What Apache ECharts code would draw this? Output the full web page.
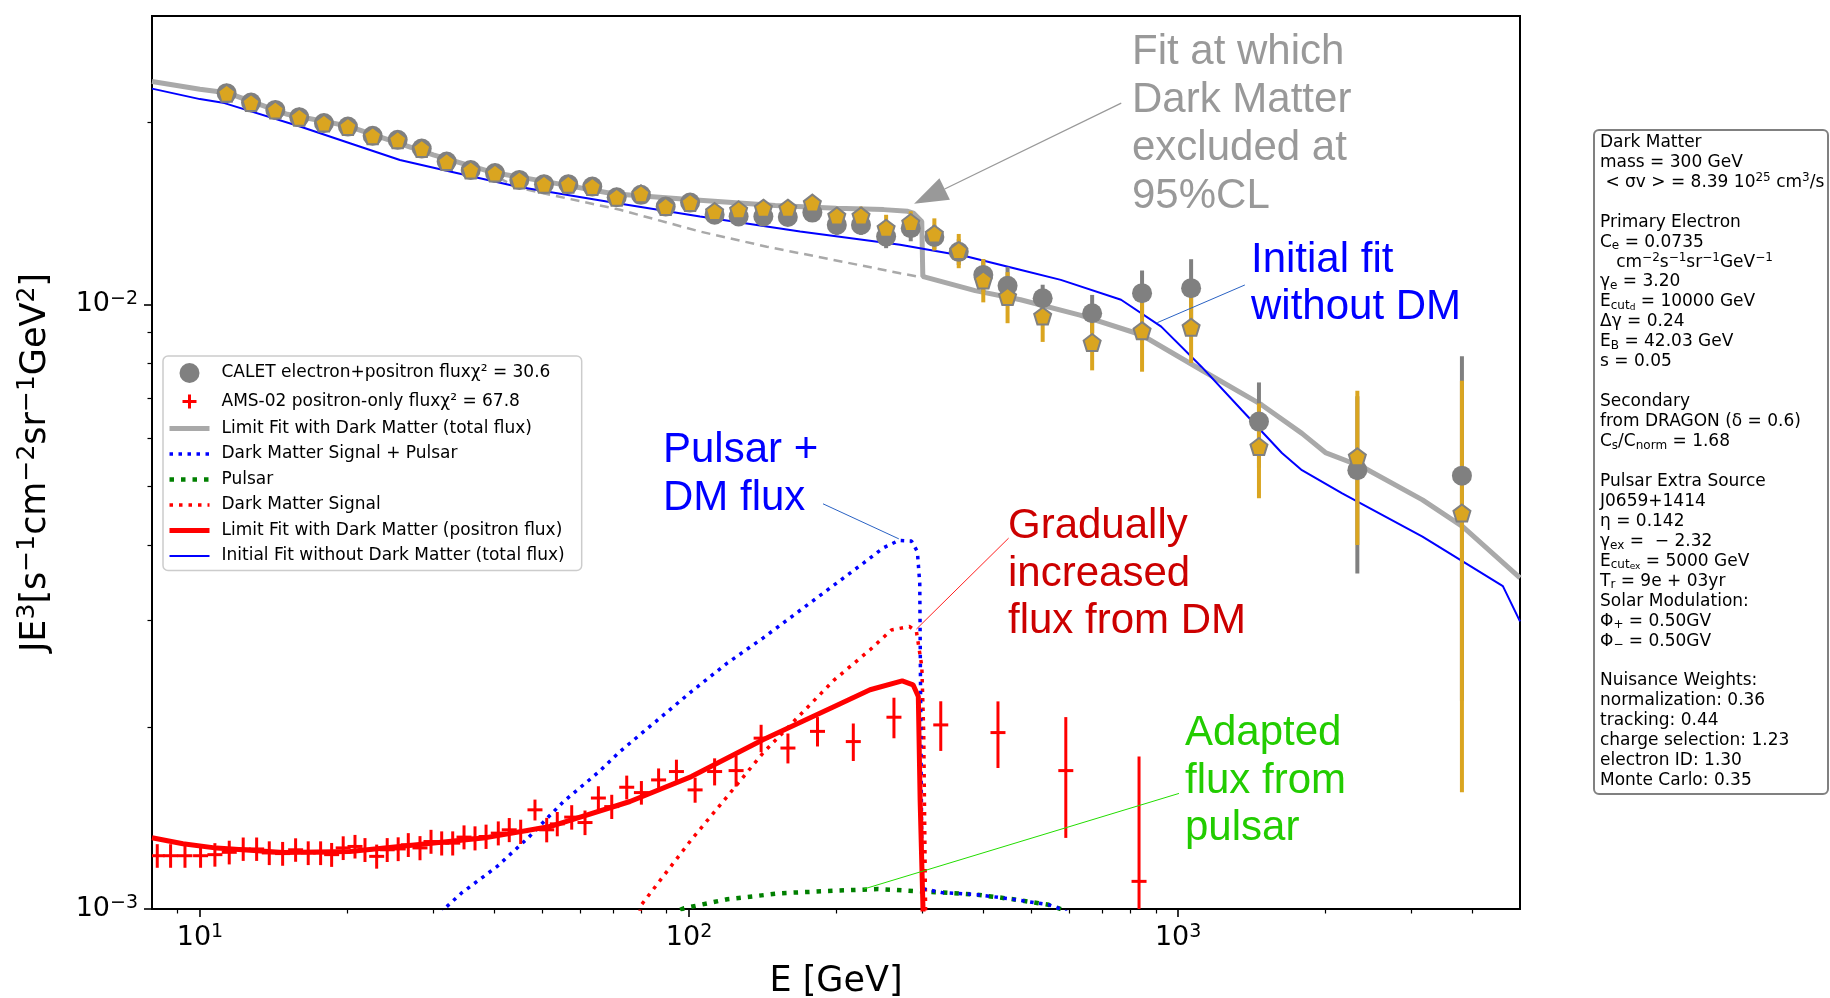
<!DOCTYPE html>
<html><head><meta charset="utf-8">
<script src="https://cdn.jsdelivr.net/npm/echarts@6/dist/echarts.min.js"></script>
<style>html,body{margin:0;padding:0;background:#fff}#c{width:1830px;height:998px}</style>
</head><body><div id="c"></div>
<script>
// ---------------- data ----------------
const calE = [11.34, 12.72, 14.26, 15.96, 17.93, 20.07, 22.55, 25.37, 28.41, 31.95, 35.78, 40.11, 44.98, 50.52, 56.65, 63.42, 71.14, 79.75, 89.60, 100.5, 112.8, 126.3, 141.9, 159.2, 178.7, 200.5, 224.7, 252.9, 284.0, 317.4, 356.0, 399.6, 448.0, 528.5, 667.1, 843.8, 1063, 1463, 2325, 3804];
const calF = [0.02236, 0.02157, 0.02098, 0.02041, 0.01995, 0.01969, 0.01901, 0.01872, 0.01811, 0.01723, 0.01669, 0.01649, 0.01607, 0.01581, 0.01581, 0.01567, 0.01504, 0.01518, 0.01452, 0.01474, 0.01407, 0.01398, 0.01398, 0.01395, 0.01419, 0.01354, 0.01354, 0.01295, 0.01337, 0.01293, 0.01222, 0.01119, 0.01074, 0.01024, 0.00967, 0.01044, 0.01064, 0.00640, 0.00532, 0.00521];
const calErr = [0.0004, 0.0004, 0.0004, 0.0004, 0.0004, 0.0004, 0.0004, 0.0004, 0.0004, 0.0004, 0.0004, 0.0004, 0.0004, 0.0004, 0.0004, 0.0004, 0.0004, 0.0004, 0.0004, 0.0004, 0.0004, 0.0004, 0.0004, 0.0004, 0.0004, 0.0005, 0.0005, 0.00056, 0.00065, 0.0006, 0.0006, 0.0007, 0.0008, 0.00054, 0.0007, 0.00094, 0.00124, 0.00103, 0.00173, 0.0030];
const penF = [0.02236, 0.02157, 0.02098, 0.02041, 0.01995, 0.01969, 0.01901, 0.01872, 0.01811, 0.01723, 0.01669, 0.01649, 0.01607, 0.01581, 0.01581, 0.01567, 0.01504, 0.01524, 0.01452, 0.01474, 0.01425, 0.01434, 0.01443, 0.01443, 0.01471, 0.01401, 0.01401, 0.01337, 0.01366, 0.01308, 0.01228, 0.01098, 0.01031, 0.00957, 0.00865, 0.00905, 0.00917, 0.00582, 0.00560, 0.00452];
const penErr = [0.0003, 0.0003, 0.0003, 0.0003, 0.0003, 0.0003, 0.0003, 0.0003, 0.0003, 0.0003, 0.0003, 0.0003, 0.0003, 0.0003, 0.0003, 0.0003, 0.0003, 0.0003, 0.0003, 0.0003, 0.0003, 0.0003, 0.0003, 0.0003, 0.0004, 0.0004, 0.0005, 0.0007, 0.0006, 0.0008, 0.0008, 0.0009, 0.0010, 0.0009, 0.00087, 0.00131, 0.00117, 0.00104, 0.0016, 0.00296];

const amsE = [8.18, 8.71, 9.32, 10.03, 10.73, 11.48, 12.26, 13.06, 13.86, 14.76, 15.69, 16.65, 17.65, 18.59, 19.63, 20.75, 21.75, 22.98, 24.15, 25.43, 26.67, 28.18, 29.68, 31.21, 32.87, 34.67, 36.51, 38.46, 40.74, 42.90, 45.27, 48.42, 51.17, 53.78, 57.56, 61.28, 65.26, 69.50, 74.58, 79.91, 86.65, 94.24, 102.9, 112.8, 124.8, 140.4, 159.3, 183.1, 216.7, 262.4, 327.1, 428.2, 589.3, 831.9];
const amsF = [0.001225, 0.001225, 0.001225, 0.001225, 0.001230, 0.001241, 0.001257, 0.001257, 0.001238, 0.001235, 0.001253, 0.001238, 0.001238, 0.001230, 0.001262, 0.001269, 0.001253, 0.001222, 0.001253, 0.001257, 0.001277, 0.001262, 0.001293, 0.001285, 0.001285, 0.001315, 0.001310, 0.001318, 0.001335, 0.001352, 0.001343, 0.001459, 0.001352, 0.001383, 0.001419, 0.001390, 0.001526, 0.001477, 0.001590, 0.001558, 0.001635, 0.001688, 0.001574, 0.001688, 0.001694, 0.001917, 0.001846, 0.001967, 0.001892, 0.002076, 0.002016, 0.001958, 0.001694, 0.001111];
const amsErr = [0.000055, 0.000055, 0.000055, 0.000055, 0.000055, 0.000056, 0.000056, 0.000056, 0.000056, 0.000056, 0.000056, 0.000056, 0.000056, 0.000056, 0.000057, 0.000057, 0.000057, 0.000056, 0.000057, 0.000057, 0.000058, 0.000058, 0.000059, 0.000059, 0.000059, 0.000060, 0.000060, 0.000061, 0.000061, 0.000062, 0.000062, 0.000058, 0.000063, 0.000064, 0.000066, 0.000065, 0.000070, 0.000068, 0.000072, 0.000070, 0.000073, 0.000078, 0.000075, 0.000087, 0.000100, 0.000100, 0.000105, 0.000110, 0.000135, 0.000160, 0.000190, 0.000247, 0.000383, 0.000677];

const limTotE = [7.98, 10, 11.34, 15, 20, 30, 40, 50, 70, 100, 150, 200, 250, 280, 287.5, 299.1, 300.6, 303.9, 384.5, 476.3, 630, 840.2, 1116, 1483, 1791, 2006, 2378, 3159, 3818, 5000];
const limTotF = [0.02337, 0.02270, 0.02240, 0.02066, 0.01974, 0.01768, 0.01651, 0.01601, 0.01524, 0.01492, 0.01458, 0.01442, 0.01435, 0.01426, 0.01416, 0.01371, 0.01112, 0.01110, 0.01054, 0.01018, 0.00960, 0.00891, 0.00779, 0.00682, 0.00612, 0.00568, 0.00539, 0.00475, 0.00429, 0.00353];
const noDmE = [36, 45.1, 72.3, 105.3, 144.2, 197.3, 270.1, 296.8];
const noDmF = [0.01700, 0.01557, 0.01434, 0.01320, 0.01246, 0.01185, 0.01126, 0.01110];
const initE = [7.98, 10, 11.22, 16.02, 20.26, 25.64, 32.45, 44.42, 67.87, 105.3, 168.7, 270.1, 369.8, 475.2, 575.6, 764.4, 923.5, 1116, 1349, 1630, 1791, 2165, 3159, 4613, 5000];
const initF = [0.02275, 0.02186, 0.02153, 0.01969, 0.01848, 0.01734, 0.01659, 0.01567, 0.01480, 0.01398, 0.01320, 0.01255, 0.01200, 0.01141, 0.01098, 0.01018, 0.00919, 0.00789, 0.00669, 0.00568, 0.00532, 0.00487, 0.00413, 0.00342, 0.00299];
const dmPulE = [31.3, 31.70, 34.23, 40.52, 46.82, 55.39, 65.52, 72.26, 85.49, 101.1, 119.7, 141.6, 167.5, 227.7, 250.0, 268.5, 285.0, 293.0, 296.3, 299.5, 302.9, 328.2, 388.3, 459.6, 543.8, 581.7, 600];
const dmPulF = [0.00098, 0.001003, 0.001062, 0.001176, 0.001310, 0.001506, 0.001688, 0.001822, 0.002042, 0.002289, 0.002551, 0.002806, 0.003105, 0.003738, 0.003960, 0.004070, 0.004060, 0.003900, 0.003455, 0.001088, 0.001079, 0.001065, 0.001056, 0.001038, 0.001016, 0.000997, 0.00098];
const pulE = [95.9, 97.8, 119.7, 154.0, 198.2, 243.5, 277.4, 328.2, 388.3, 459.6, 543.8, 581.7];
const pulF = [0.000997, 0.001003, 0.001038, 0.001062, 0.001072, 0.001079, 0.001073, 0.001065, 0.001056, 0.001038, 0.001016, 0.000997];
const dmE = [78.5, 79.9, 101.1, 119.7, 141.6, 167.5, 198.2, 234.5, 259.3, 282.2, 291.7, 299.2, 301.9, 304.4, 305];
const dmF = [0.00095, 0.001016, 0.001302, 0.001535, 0.001811, 0.002082, 0.002394, 0.002684, 0.002895, 0.002933, 0.002877, 0.002518, 0.001954, 0.001035, 0.0009];
const posE = [7.98, 9.23, 10.82, 14.80, 20.26, 27.74, 37.96, 51.96, 75.73, 101.1, 141.6, 198.2, 234.5, 272.8, 287.1, 294.3, 296.8, 301.9];
const posF = [0.001312, 0.001282, 0.001261, 0.001240, 0.001245, 0.001277, 0.001310, 0.001369, 0.001506, 0.001656, 0.001905, 0.002163, 0.002305, 0.002385, 0.002349, 0.002247, 0.001516, 0.0009];

const xMajorTicks = [10, 100, 1000];
const xMinorTicks = [9, 20, 30, 40, 50, 60, 70, 80, 90, 200, 300, 400, 500, 600, 700, 800, 900, 2000, 3000, 4000];
const yMajorTicks = [0.001, 0.01];
const yMinorTicks = [0.002, 0.003, 0.004, 0.005, 0.006, 0.007, 0.008, 0.009, 0.02];

const legendNames = ['CALET electron+positron fluxχ² = 30.6', 'AMS-02 positron-only fluxχ² = 67.8', 'Limit Fit with Dark Matter (total flux)', 'Dark Matter Signal + Pulsar', 'Pulsar', 'Dark Matter Signal', 'Limit Fit with Dark Matter (positron flux)', 'Initial Fit without Dark Matter (total flux)'];

const paramLines = [
  'Dark Matter', 'mass = 300 GeV', ' < σv > = 8.39 10{sup|25} cm{sup|3}/s', '',
  'Primary Electron', 'C{sub|e} = 0.0735', '   cm{sup|−2}s{sup|−1}sr{sup|−1}GeV{sup|−1}', 'γ{sub|e} = 3.20',
  'E{sub|cut}{sub2|d} = 10000 GeV', 'Δγ = 0.24', 'E{sub|B} = 42.03 GeV', 's = 0.05', '',
  'Secondary', 'from DRAGON (δ = 0.6)', 'C{sub|s}/C{sub|norm} = 1.68', '',
  'Pulsar Extra Source', 'J0659+1414', 'η = 0.142', 'γ{sub|ex} =  − 2.32', 'E{sub|cut}{sub2|ex} = 5000 GeV',
  'T{sub|r} = 9e + 03yr', 'Solar Modulation:', 'Φ{sub|+} = 0.50GV', 'Φ{sub|−} = 0.50GV', '',
  'Nuisance Weights:', 'normalization: 0.36', 'tracking: 0.44', 'charge selection: 1.23', 'electron ID: 1.30', 'Monte Carlo: 0.35'
];

// annotation texts and their pointer lines (pointer ends in data coordinates)
const notes = [
  {text: 'Fit at which\nDark Matter\nexcluded at\n95%CL', color: '#999999', x: 1132, y: 28, lh: 48},
  {text: 'Initial fit\nwithout DM', color: '#0000ff', x: 1251, y: 237, lh: 47},
  {text: 'Pulsar +\nDM flux', color: '#0000ff', x: 663, y: 426, lh: 48},
  {text: 'Gradually\nincreased\nflux from DM', color: '#cc0000', x: 1008, y: 503, lh: 47.5},
  {text: 'Adapted\nflux from\npulsar', color: '#22cc00', x: 1185, y: 710, lh: 47.5}
];
const pointers = [
  {from: [765, 0.02153], to: [288.5, 0.01467], color: '#999999', arrow: true},
  {from: [1369, 0.01077], to: [906.6, 0.00933], color: '#2a62c4'},
  {from: [187.9, 0.00468], to: [268.5, 0.004095], color: '#2a62c4'},
  {from: [450.2, 0.004106], to: [291.7, 0.002904], color: '#ff2020'},
  {from: [1004, 0.001553], to: [227.7, 0.001079], color: '#22dd00'}
];

// ---------------- helpers ----------------
const zip = (a, b) => a.map((v, i) => [v, b[i]]);
const zip3 = (a, b, c) => a.map((v, i) => [v, b[i], c[i]]);
const FONT = 'DejaVu Sans';
function powLabel(v) {
  const e = Math.round(Math.log10(v));
  if (Math.abs(v / Math.pow(10, e) - 1) > 1e-6) return '';
  const s = e < 0 ? '−' + (-e) : '' + e;
  return '{b|10}{s|' + s + '}';
}
const tickRich = {
  b: {fontSize: 27, fontFamily: FONT, color: '#000', lineHeight: 30},
  s: {fontSize: 19, fontFamily: FONT, color: '#000', lineHeight: 17, verticalAlign: 'top'}
};
function errRender(color, width, cap) {
  return function (params, api) {
    const E = api.value(0), F = api.value(1), s = api.value(2);
    const top = api.coord([E, F + s]);
    const bot = api.coord([E, Math.max(F - s, 1e-5)]);
    const c = api.coord([E, F]);
    const ch = [{type: 'line', shape: {x1: top[0], y1: top[1], x2: bot[0], y2: bot[1]}, style: {stroke: color, lineWidth: width}}];
    if (cap) ch.push({type: 'line', shape: {x1: c[0] - cap / 2, y1: c[1], x2: c[0] + cap / 2, y2: c[1]}, style: {stroke: color, lineWidth: width}});
    return {type: 'group', children: ch};
  };
}
const pentagon = 'path://M0,-1L0.951,-0.309L0.588,0.809L-0.588,0.809L-0.951,-0.309Z';
const plusIcon = 'path://M0,0L0.01,0M20,20L20.01,20M8.5,3H11.5V8.5H17V11.5H11.5V17H8.5V11.5H3V8.5H8.5Z';

function lineSeries(name, data, color, width, type, extra) {
  return Object.assign({
    name, type: 'line', data, symbol: 'none', showSymbol: false, clip: true,
    lineStyle: {color, width, type: type || 'solid', cap: 'butt'}, itemStyle: {color},
    emphasis: {disabled: true}, z: 2
  }, extra || {});
}
const hideSym = {opacity: 0};
const legLine = (name, color, width, type) => ({name, itemStyle: hideSym, lineStyle: {color, width, type: type || 'solid', cap: 'butt'}});

const option = {
  animation: false,
  backgroundColor: '#ffffff',
  textStyle: {fontFamily: FONT},
  grid: {left: 152, right: 310, top: 16, bottom: 89, show: true, borderColor: '#000', borderWidth: 2, containLabel: false, outerBoundsMode: 'none'},
  legend: {
    orient: 'vertical', left: 163, top: 356, padding: [7, 17, 6, 4], itemGap: 8.5,
    itemWidth: 40, itemHeight: 20, selectedMode: false,
    backgroundColor: 'rgba(255,255,255,0.85)', borderColor: '#cccccc', borderWidth: 1.5, borderRadius: 5,
    textStyle: {fontSize: 17, color: '#000', fontFamily: FONT, padding: [0, 0, 0, 7]},
    data: [
      {name: legendNames[0], icon: 'circle'},
      {name: legendNames[1], icon: plusIcon},
      legLine(legendNames[2], '#a9a9a9', 5),
      legLine(legendNames[3], '#0000ff', 3.5, [3.5, 5.5]),
      legLine(legendNames[4], '#008000', 4.5, [4.5, 7]),
      legLine(legendNames[5], '#ff0000', 3.5, [3.5, 6]),
      legLine(legendNames[6], '#ff0000', 5),
      legLine(legendNames[7], '#0000ff', 2)
    ]
  },
  xAxis: [{
    type: 'log', logBase: 10, min: 7.98, max: 5000, gridIndex: 0,
    name: 'E [GeV]', nameLocation: 'middle', nameGap: 55,
    nameTextStyle: {fontSize: 35, color: '#000', fontFamily: FONT},
    axisLine: {show: true, lineStyle: {color: '#000', width: 2}},
    axisTick: {show: true, inside: false, length: 8, lineStyle: {color: '#000', width: 1.6}, customValues: xMajorTicks},
    axisLabel: {show: true, margin: 14, customValues: xMajorTicks, formatter: powLabel, rich: tickRich},
    splitLine: {show: false}, minorTick: {show: false}
  }, {
    type: 'log', logBase: 10, min: 7.98, max: 5000, gridIndex: 0, position: 'bottom',
    axisLine: {show: false}, axisLabel: {show: false}, splitLine: {show: false},
    axisTick: {show: true, inside: false, length: 4.5, lineStyle: {color: '#000', width: 1.2}, customValues: xMinorTicks}
  }],
  yAxis: [{
    type: 'log', logBase: 10, min: 0.001, max: 0.030, gridIndex: 0,
    name: '{n|JE}{s|3}{n|[s}{s|−1}{n|cm}{s|−2}{n|sr}{s|−1}{n|GeV}{s|2}{n|]}',
    nameLocation: 'middle', nameGap: 95, nameRotate: 90,
    nameTextStyle: {rich: {
      n: {fontSize: 35, color: '#000', fontFamily: FONT, lineHeight: 42},
      s: {fontSize: 25, color: '#000', fontFamily: FONT, lineHeight: 24, verticalAlign: 'top'}
    }},
    axisLine: {show: true, lineStyle: {color: '#000', width: 2}},
    axisTick: {show: true, inside: false, length: 8, lineStyle: {color: '#000', width: 1.6}, customValues: yMajorTicks},
    axisLabel: {show: true, margin: 14, customValues: yMajorTicks, formatter: powLabel, rich: tickRich},
    splitLine: {show: false}
  }, {
    type: 'log', logBase: 10, min: 0.001, max: 0.030, gridIndex: 0, position: 'left',
    axisLine: {show: false}, axisLabel: {show: false}, splitLine: {show: false},
    axisTick: {show: true, inside: false, length: 4.5, lineStyle: {color: '#000', width: 1.2}, customValues: yMinorTicks}
  }],
  series: [
    lineSeries(legendNames[2], zip(limTotE, limTotF), '#a9a9a9', 5),
    lineSeries('Limit fit without DM component', zip(noDmE, noDmF), '#a9a9a9', 2.5, [9, 6]),
    lineSeries(legendNames[7], zip(initE, initF), '#0000ff', 2),
    lineSeries(legendNames[4], zip(pulE, pulF), '#008000', 4.5, [4.5, 7]),
    lineSeries(legendNames[5], zip(dmE, dmF), '#ff0000', 3.5, [3.5, 6]),
    lineSeries(legendNames[3], zip(dmPulE, dmPulF), '#0000ff', 3.5, [3.5, 5.5]),
    lineSeries(legendNames[6], zip(posE, posF), '#ff0000', 5),
    {
      name: legendNames[1], type: 'custom', clip: true, z: 3,
      itemStyle: {color: '#ff0000'},
      renderItem: errRender('#ff0000', 3, 15),
      encode: {x: 0, y: 1},
      data: zip3(amsE, amsF, amsErr)
    },
    {
      name: 'CALET error bars', type: 'custom', clip: true, z: 3,
      itemStyle: {color: '#808080'},
      renderItem: errRender('#808080', 4, 0),
      encode: {x: 0, y: 1},
      data: zip3(calE, calF, calErr)
    },
    {
      name: legendNames[0], type: 'scatter', symbol: 'circle', symbolSize: 20, z: 3, clip: true,
      itemStyle: {color: '#808080', opacity: 1}, emphasis: {disabled: true},
      data: zip(calE, calF)
    },
    {
      name: 'pentagon error bars', type: 'custom', clip: true, z: 3,
      itemStyle: {color: '#daa520'},
      renderItem: errRender('#daa520', 4, 0),
      encode: {x: 0, y: 1},
      data: zip3(calE, penF, penErr)
    },
    {
      name: 'electron+positron flux (pentagons)', type: 'scatter', symbol: pentagon, symbolSize: 17, z: 3, clip: true,
      itemStyle: {color: '#daa520', borderColor: '#808080', borderWidth: 2, opacity: 1}, emphasis: {disabled: true},
      data: zip(calE, penF)
    }
  ]
};

const chart = echarts.init(document.getElementById('c'), null, {renderer: 'canvas'});
chart.setOption(option);

// ---------------- annotations ----------------
const toPx = p => chart.convertToPixel({xAxisIndex: 0, yAxisIndex: 0}, p);
const gfx = [];
notes.forEach(n => {
  gfx.push({type: 'text', z: 50, style: {text: n.text, x: n.x, y: n.y, fill: n.color, fontSize: 42, fontFamily: 'Liberation Sans', lineHeight: n.lh, verticalAlign: 'top', align: 'left'}});
});
pointers.forEach(p => {
  const a = toPx(p.from), b = toPx(p.to);
  if (p.arrow) {
    const dx = b[0] - a[0], dy = b[1] - a[1], L = Math.hypot(dx, dy);
    const ux = dx / L, uy = dy / L, hl = 34, hw = 12;
    const bx = b[0] - ux * hl, by = b[1] - uy * hl;
    gfx.push({type: 'line', z: 50, shape: {x1: a[0], y1: a[1], x2: bx, y2: by}, style: {stroke: p.color, lineWidth: 1.2}});
    gfx.push({type: 'polygon', z: 50, shape: {points: [[b[0], b[1]], [bx - uy * hw, by + ux * hw], [bx + uy * hw, by - ux * hw]]}, style: {fill: p.color}});
  } else {
    gfx.push({type: 'line', z: 50, shape: {x1: a[0], y1: a[1], x2: b[0], y2: b[1]}, style: {stroke: p.color, lineWidth: 1}});
  }
});
// parameter box
gfx.push({type: 'rect', z: 40, shape: {x: 1594, y: 130, width: 234, height: 664, r: 5}, style: {fill: '#fff', stroke: '#808080', lineWidth: 2}});
const boxRich = {
  sup: {fontSize: 12, fontFamily: FONT, fill: '#000', lineHeight: 12, verticalAlign: 'top'},
  sub: {fontSize: 12, fontFamily: FONT, fill: '#000', lineHeight: 10, verticalAlign: 'bottom'},
  sub2: {fontSize: 9, fontFamily: FONT, fill: '#000', lineHeight: 6, verticalAlign: 'bottom'}
};
paramLines.forEach((t, i) => {
  if (!t) return;
  gfx.push({type: 'text', z: 41, style: {text: t, x: 1600, y: 142.4 + i * 19.95, fill: '#000', fontSize: 17, fontFamily: FONT, lineHeight: 20, verticalAlign: 'middle', align: 'left', rich: boxRich}});
});
chart.setOption({graphic: gfx});
</script>
</body></html>
